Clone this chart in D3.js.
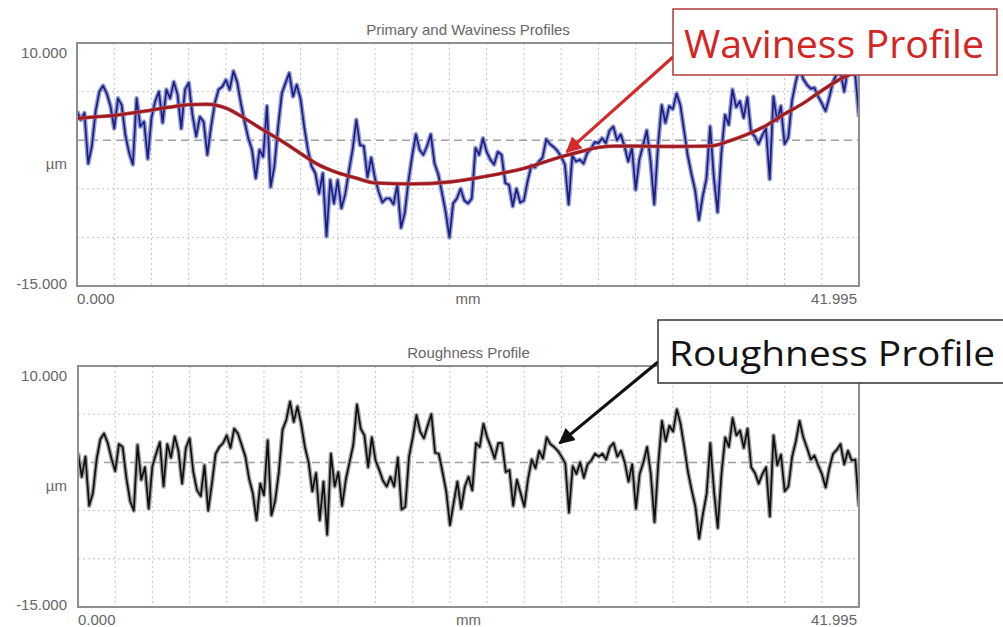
<!DOCTYPE html>
<html>
<head>
<meta charset="utf-8">
<script src="https://cdn.jsdelivr.net/npm/d3@7"></script>
<style>
  body { margin: 0; background: #fff; }
  svg { display: block; font-family: "Liberation Sans", Arial, sans-serif; }
</style>
</head>
<body>
<div id="chart"></div>
<script>
// sampled profile, 0.2 mm spacing, values in um
var xMax = 41.995;
var sampleStep = 0.2;
var yDomain = [-15, 10];
var yGrid = [5, -5, -10];
var xGrid = [2, 4, 6, 8, 10, 12, 14, 16, 18, 20, 22, 24, 26, 28, 30, 32, 34, 36, 38, 40];

var primary = [
  3.0, 2.1, 2.8, -2.4, -0.6, 3.0, 5.0, 5.6, 4.8, 3.5,
  1.2, 4.3, 3.6, 0.5, -1.3, -2.5, 4.3, 1.4, 1.9, -1.9,
  2.3, 4.0, 5.0, 1.8, 5.2, 4.3, 6.0, 4.7, 1.2, 5.2,
  5.9, 2.6, 0.4, 2.4, 1.9, -1.5, 1.4, 3.8, 5.2, 5.5,
  6.2, 5.2, 7.1, 6.0, 3.8, 1.9, 0.2, -1.0, -3.9, -1.0,
  -1.7, 3.5, -4.8, -2.7, 1.4, 4.8, 5.9, 6.9, 4.5, 5.7,
  4.3, 1.4, -1.0, -2.7, -3.4, -5.5, -3.4, -9.9, -4.1, -6.5,
  -4.1, -7.0, -5.6, -3.2, -1.0, 2.1, -0.5, -0.6, -3.8, -1.8,
  -3.9, -5.3, -6.4, -6.0, -6.0, -6.6, -4.6, -9.0, -7.5, -4.2,
  -1.6, 0.6, -1.0, -1.5, -0.6, 0.6, -2.4, -3.5, -5.4, -7.4,
  -10.0, -6.5, -6.0, -5.0, -6.2, -6.5, -6.0, -0.8, -1.5, 0.2,
  -1.2, -2.0, -2.5, -1.2, -1.5, -4.4, -4.6, -6.8, -5.0, -6.4,
  -6.2, -4.2, -2.6, -2.8, -2.2, -1.8, 0.1, -0.4, -0.7, -1.1,
  -1.7, -2.5, -6.6, -1.6, -2.2, -2.0, -2.4, -1.3, -0.9, -0.2,
  -0.3, 0.2, -0.3, 1.0, 1.4, 0.0, 0.6, -0.6, -2.2, -0.8,
  -5.1, -2.0, -0.5, 1.0, -2.1, -6.6, -0.6, 3.6, 1.8, 3.5,
  3.2, 4.8, 3.6, 1.0, -1.6, -3.5, -5.2, -8.2, -5.8, -4.0,
  1.4, -3.8, -7.4, -1.4, 2.6, 1.6, 5.2, 3.4, 4.0, 2.3,
  4.4, 0.8, 0.4, -0.4, 0.5, 1.2, -4.0, 4.5, 2.0, 3.5,
  -0.4, 0.3, 4.1, 6.0, 7.5, 6.3, 5.7, 5.3, 5.4, 4.5,
  3.8, 3.0, 4.4, 6.0, 6.8, 7.0, 5.0, 7.4, 7.0, 6.6,
  2.4
];

var roughness = [
  1.0, -1.5, 0.6, -4.5, -3.2, 0.3, 2.4, 3.0, 2.0, 0.4,
  -0.9, 1.9, 1.6, -1.6, -4.0, -5.0, 1.8, -1.8, -0.5, -4.8,
  -0.4, 0.9, 2.1, -2.5, 1.9, 0.5, 2.7, 1.2, -2.2, 1.5,
  2.5, -1.0, -2.9, -3.5, -0.3, -5.0, -2.2, 0.9, 1.6, 2.0,
  2.8, 1.5, 3.5, 3.0, 1.8, 0.6, -1.7, -3.2, -6.0, -2.2,
  -3.4, 2.3, -5.5, -4.0, -1.0, 3.4, 4.4, 6.3, 4.2, 5.8,
  4.0, 1.6, 0.0, -3.0, -1.1, -6.0, -2.0, -7.5, 0.9, -2.5,
  -1.0, -4.5, -1.8, 0.0, 1.8, 6.0, 3.5, 2.8, -0.5, 2.6,
  0.2, -0.8, -1.9, -2.5, -1.5, -2.5, 0.5, -4.9, -4.6, 0.6,
  2.6, 4.9, 3.2, 2.5, 3.8, 5.0, 1.0, 0.9, -1.0, -3.0,
  -6.5, -4.2, -2.0, -4.8, -2.5, -1.5, -2.9, 2.0, 1.6, 4.0,
  2.6, 1.6, 0.4, 2.0, 2.0, -1.0, -0.8, -4.5, -1.8, -3.2,
  -4.6, -1.7, 0.3, -0.6, 1.2, 0.4, 2.6, 1.9, 1.6, 1.2,
  0.6, -0.1, -5.2, -0.4, -1.2, 0.0, -1.6, -0.2, 0.2, 0.9,
  0.6, 0.9, 0.3, 1.6, 2.0, 0.6, 1.2, 0.0, -2.0, -0.2,
  -4.8, -1.2, 0.0, 1.6, -1.2, -6.2, -0.2, 4.3, 2.2, 3.8,
  3.2, 5.5, 4.0, 1.6, -1.0, -2.9, -4.6, -7.9, -5.4, -3.3,
  2.0, -3.0, -6.8, -1.2, 2.6, 1.6, 4.6, 2.8, 3.3, 1.5,
  3.5, -0.5, -1.1, -2.2, -1.2, -0.5, -5.6, 2.8, -0.3, 0.8,
  -3.0, -2.5, 0.6, 2.2, 4.3, 2.6, 1.5, 0.3, 0.7, -0.3,
  -1.2, -2.6, -0.6, 0.9, 1.3, 1.9, -0.2, 1.2, 0.2, 0.3,
  -4.6
];

var wavinessMm = [0, 1, 2, 3, 4, 5, 6, 7, 8, 9, 10, 11, 12, 13, 14, 15, 16, 18, 20, 22,
  24, 26, 27, 28, 29, 30, 32, 34, 35, 36, 37, 38, 39, 40, 41, 41.995];
var wavinessUm = [2.25, 2.4, 2.55, 2.8, 3.1, 3.4, 3.65, 3.7, 3.3, 2.25, 1.05, -0.1, -1.35, -2.55, -3.35, -3.9, -4.4, -4.5, -4.3, -3.7,
  -2.9, -1.7, -1.2, -0.75, -0.6, -0.6, -0.65, -0.6, -0.1, 0.6, 1.5, 2.7, 3.8, 5.1, 6.3, 7.1];

var W = 1003, H = 627;
var svg = d3.select('#chart').append('svg')
  .attr('width', W).attr('height', H);

svg.append('rect').attr('width', W).attr('height', H).attr('fill', '#fff');

var defs = svg.append('defs');
var fmt = function(v){ return d3.format('.3f')(v).replace('\u2212', '-'); };

var toPoints = function(vals){
  return vals.map(function(v, i){ return [Math.min(i * sampleStep, xMax), v]; });
};

var drawPanel = function(p){
  var x = d3.scaleLinear().domain([0, xMax]).range([p.left, p.right]);
  var y = d3.scaleLinear().domain(yDomain).range([p.bottom, p.top]);
  var g = svg.append('g');

  // grid
  g.selectAll('line.vgrid').data(xGrid).enter().append('line')
    .attr('x1', function(d){ return x(d); }).attr('x2', function(d){ return x(d); })
    .attr('y1', p.top).attr('y2', p.bottom)
    .attr('stroke', '#c4c4c4').attr('stroke-width', 1).attr('stroke-dasharray', '2,3');
  g.selectAll('line.hgrid').data(yGrid).enter().append('line')
    .attr('x1', p.left).attr('x2', p.right)
    .attr('y1', function(d){ return y(d); }).attr('y2', function(d){ return y(d); })
    .attr('stroke', '#c4c4c4').attr('stroke-width', 1).attr('stroke-dasharray', '2,3');
  g.append('line')
    .attr('x1', p.left).attr('x2', p.right).attr('y1', y(0)).attr('y2', y(0))
    .attr('stroke', '#a0a0a0').attr('stroke-width', 1.5).attr('stroke-dasharray', '8,5');

  // clip
  defs.append('clipPath').attr('id', p.id + '-clip')
    .append('rect').attr('x', p.left).attr('y', p.top)
    .attr('width', p.right - p.left).attr('height', p.bottom - p.top);
  var plot = g.append('g').attr('clip-path', 'url(#' + p.id + '-clip)');

  var line = d3.line().x(function(d){ return x(d[0]); }).y(function(d){ return y(d[1]); });
  var smooth = d3.line().curve(d3.curveMonotoneX)
    .x(function(d){ return x(d[0]); }).y(function(d){ return y(d[1]); });

  p.series.forEach(function(s){
    var gen = s.smooth ? smooth : line;
    if (s.halo) {
      plot.append('path').datum(s.points).attr('d', gen)
        .attr('fill', 'none').attr('stroke', s.halo).attr('stroke-width', s.haloWidth)
        .attr('stroke-linejoin', 'round');
    }
    plot.append('path').datum(s.points).attr('d', gen)
      .attr('fill', 'none').attr('stroke', s.color).attr('stroke-width', s.width)
      .attr('stroke-linejoin', 'round');
  });

  // frame
  g.append('rect').attr('x', p.left).attr('y', p.top)
    .attr('width', p.right - p.left).attr('height', p.bottom - p.top)
    .attr('fill', 'none').attr('stroke', '#8f8f8f').attr('stroke-width', 2);

  // labels
  var lab = function(txt, lx, ly, anchor){
    g.append('text').attr('x', lx).attr('y', ly).attr('text-anchor', anchor)
      .attr('font-size', 15).attr('fill', '#666').text(txt);
  };
  lab(p.title, (p.left + p.right) / 2, p.top - 8, 'middle');
  lab(fmt(yDomain[1]), 67, p.top + 15, 'end');
  lab(fmt(yDomain[0]), 67, p.bottom + 3, 'end');
  lab('\u00b5m', 67, (p.top + p.bottom) / 2 + 4, 'end');
  lab(fmt(0), p.left, p.bottom + 18, 'start');
  lab('mm', (p.left + p.right) / 2, p.bottom + 18, 'middle');
  lab(fmt(xMax), p.right - 2, p.bottom + 18, 'end');

  return {x: x, y: y};
};

var primaryScales = drawPanel({
  id: 'primary', title: 'Primary and Waviness Profiles',
  left: 77, right: 859, top: 43, bottom: 286,
  series: [
    {points: toPoints(primary), color: '#1a1d80', halo: '#959bd6', width: 1.7, haloWidth: 4.6},
    {points: wavinessMm.map(function(m, i){ return [m, wavinessUm[i]]; }),
      color: '#9e1a20', halo: '#bf5a60', width: 2.6, haloWidth: 3.8, smooth: true}
  ]
});

var roughScales = drawPanel({
  id: 'rough', title: 'Roughness Profile',
  left: 78, right: 859, top: 366, bottom: 607,
  series: [
    {points: toPoints(roughness), color: '#0e0e0e', halo: '#a0a0a0', width: 1.7, haloWidth: 4.4}
  ]
});

// callouts
var callout = function(c){
  defs.append('marker').attr('id', c.id + '-head')
    .attr('viewBox', '0 0 10 10').attr('refX', 9).attr('refY', 5)
    .attr('markerWidth', 5).attr('markerHeight', 5).attr('orient', 'auto')
    .attr('markerUnits', 'strokeWidth')
    .append('path').attr('d', 'M0,0 L10,5 L0,10 Z').attr('fill', c.color);

  svg.append('line')
    .attr('x1', c.from[0]).attr('y1', c.from[1])
    .attr('x2', c.scales.x(c.tip[0])).attr('y2', c.scales.y(c.tip[1]))
    .attr('stroke', c.color).attr('stroke-width', 3.2)
    .attr('marker-end', 'url(#' + c.id + '-head)');

  svg.append('rect').attr('x', c.box[0]).attr('y', c.box[1])
    .attr('width', c.box[2]).attr('height', c.box[3])
    .attr('fill', '#fff').attr('stroke', c.border).attr('stroke-width', 1.5);

  svg.append('text').attr('x', c.box[0] + 11).attr('y', c.box[1] + c.box[3] - 17)
    .attr('font-family', '"Open Sans", "Noto Sans", sans-serif')
    .attr('font-size', c.size).attr('fill', c.textColor)
    .attr('textLength', c.textWidth).attr('lengthAdjust', 'spacingAndGlyphs')
    .text(c.text);
};

callout({
  id: 'wav', text: 'Waviness Profile', color: '#d42a2a', border: '#b33a3a', textColor: '#d42424',
  scales: primaryScales, tip: [26.3, -1.2], from: [673, 57],
  box: [673, 9, 324, 66], size: 39, textWidth: 300
});

callout({
  id: 'rgh', text: 'Roughness Profile', color: '#111', border: '#333', textColor: '#141414',
  scales: roughScales, tip: [25.9, 2.0], from: [658, 362],
  box: [658, 320, 350, 63], size: 35, textWidth: 326
});
</script>
</body>
</html>
